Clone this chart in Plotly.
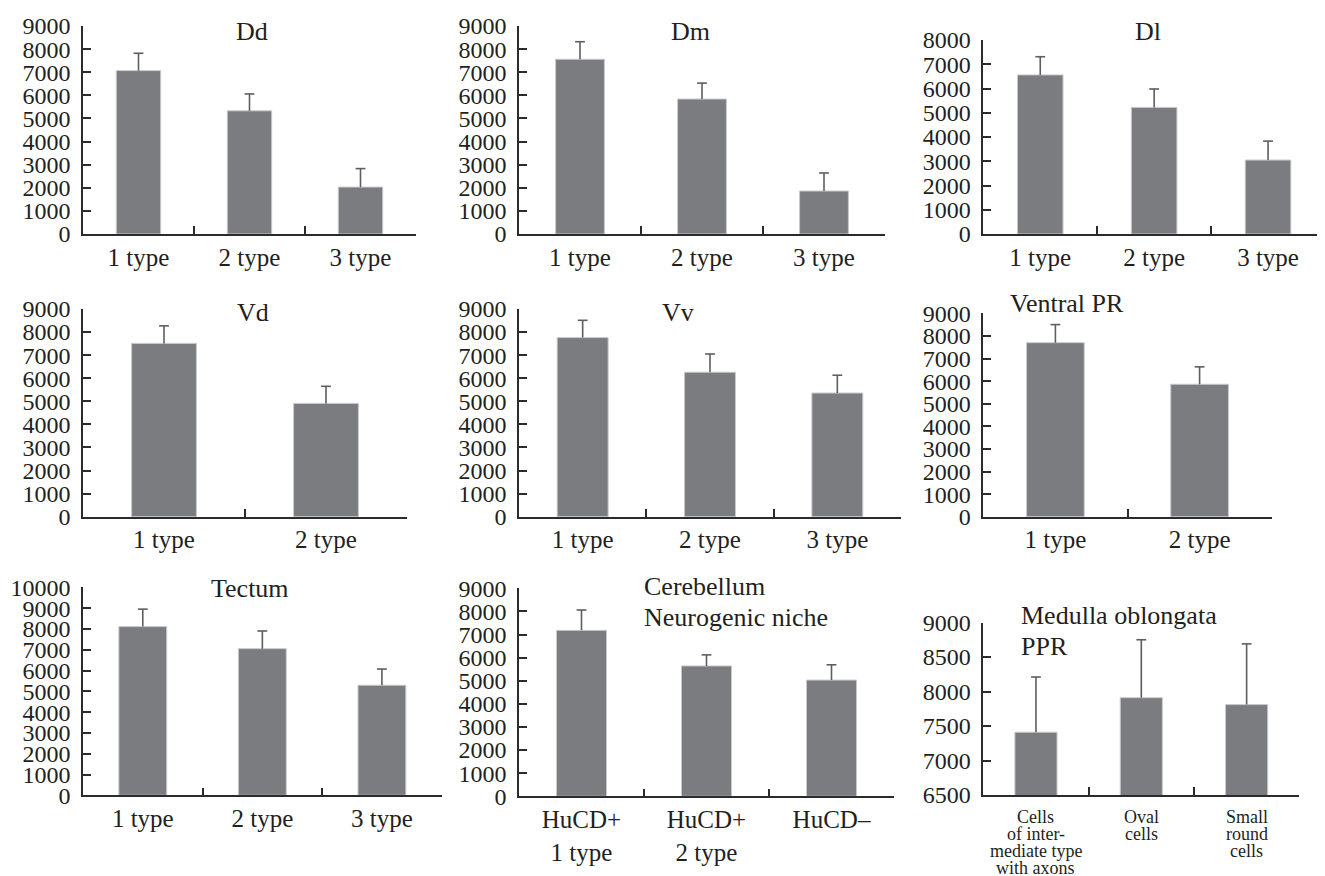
import plotly.graph_objects as go

# ---------------- data ----------------
type3 = ["1 type", "2 type", "3 type"]
type2 = ["1 type", "2 type"]

dd_mean = [7070, 5330, 2030]
dd_err = [750, 730, 800]

dm_mean = [7560, 5840, 1860]
dm_err = [760, 690, 780]

dl_mean = [6560, 5220, 3050]
dl_err = [750, 760, 780]

vd_mean = [7510, 4910]
vd_err = [760, 740]

vv_mean = [7760, 6260, 5360]
vv_err = [750, 790, 770]

vpr_mean = [7700, 5860]
vpr_err = [800, 770]

tect_mean = [8110, 7050, 5290]
tect_err = [840, 850, 780]

cer_cats = ["HuCD+ 1 type", "HuCD+ 2 type", "HuCD–"]
cer_ticktext = ["HuCD+<br>1 type", "HuCD+<br>2 type", "HuCD–"]
cer_mean = [7180, 5640, 5030]
cer_err = [880, 480, 660]

med_label_lines = [["Cells", "of inter-", "mediate type", "with axons"],
                   ["Oval", "cells"],
                   ["Small", "round", "cells"]]
med_cats = [" ".join(l) for l in med_label_lines]
med_mean = [7410, 7910, 7810]
med_err = [800, 840, 880]

# ---------------- style ----------------
PAGE_OFF = 8                  # default body margin of the html page
W, H = 1325 - PAGE_OFF, 876 - PAGE_OFF
FONT = "Liberation Serif"
TXT = "#231f20"
BAR = "#7b7c80"
BAR_EDGE = "#c9c9cb"
ERR = "#5e5e60"
AX = "#2b2b2b"

def px(x):
    return min(1.0, (x - PAGE_OFF) / W)

def py(y):
    return 1 - (y - PAGE_OFF) / H

panels = [
    dict(title="Dd", cats=type3, ticktext=type3, mean=dd_mean, err=dd_err, rng=[0, 9000], dt=1000,
         xd=[83, 416], yd=[234, 26], tpos=(251.7, 32), tanchor="center"),
    dict(title="Dm", cats=type3, ticktext=type3, mean=dm_mean, err=dm_err, rng=[0, 9000], dt=1000,
         xd=[519, 885], yd=[234, 26], tpos=(690, 32), tanchor="center"),
    dict(title="Dl", cats=type3, ticktext=type3, mean=dl_mean, err=dl_err, rng=[0, 8000], dt=1000,
         xd=[983.3, 1327], yd=[234, 40], tpos=(1148, 32), tanchor="center"),
    dict(title="Vd", cats=type2, ticktext=type2, mean=vd_mean, err=vd_err, rng=[0, 9000], dt=1000,
         xd=[83, 407], yd=[516.7, 309], tpos=(253, 312.7), tanchor="center"),
    dict(title="Vv", cats=type3, ticktext=type3, mean=vv_mean, err=vv_err, rng=[0, 9000], dt=1000,
         xd=[519, 901], yd=[516.7, 309], tpos=(678, 312.7), tanchor="center"),
    dict(title="Ventral PR", cats=type2, ticktext=type2, mean=vpr_mean, err=vpr_err, rng=[0, 9000], dt=1000,
         xd=[983.3, 1271.7], yd=[516.7, 313.3], tpos=(1066.7, 303.3), tanchor="center"),
    dict(title="Tectum", cats=type3, ticktext=type3, mean=tect_mean, err=tect_err, rng=[0, 10000], dt=1000,
         xd=[83, 441.7], yd=[795.3, 587.3], tpos=(250, 588.3), tanchor="center"),
    dict(title=["Cerebellum", "Neurogenic niche"], cats=cer_cats, ticktext=cer_ticktext, mean=cer_mean,
         err=cer_err, rng=[0, 9000], dt=1000,
         xd=[519, 894], yd=[796.3, 588.3], tpos=(642.3, 586), tanchor="left"),
    dict(title=["Medulla oblongata", "PPR"], cats=med_cats, ticktext=None, mean=med_mean, err=med_err,
         rng=[6500, 9000], dt=500,
         xd=[983.3, 1299.3], yd=[795, 622.5], tpos=(1019.3, 615), tanchor="left"),
]

fig = go.Figure()
annotations = []
layout = {}

for i, p in enumerate(panels, start=1):
    sfx = "" if i == 1 else str(i)
    xa, ya = "x" + sfx, "y" + sfx
    # bars with upper error stems (no caps)
    fig.add_trace(go.Bar(
        x=p["cats"], y=p["mean"], xaxis=xa, yaxis=ya,
        marker=dict(color=BAR, line=dict(color=BAR_EDGE, width=1)),
        error_y=dict(type="data", symmetric=False, array=p["err"],
                     arrayminus=[0] * len(p["err"]),
                     color=ERR, thickness=1.6, width=0),
        width=0.4, showlegend=False, hoverinfo="x+y",
    ))
    # caps at the top of each error bar
    tops = [m + e for m, e in zip(p["mean"], p["err"])]
    fig.add_trace(go.Scatter(
        x=p["cats"], y=tops, xaxis=xa, yaxis=ya, mode="markers",
        marker=dict(symbol="line-ew-open", size=7, color=ERR, line=dict(color=ERR, width=1.6)),
        showlegend=False, hoverinfo="skip", cliponaxis=False,
    ))
    n = len(p["cats"])
    xaxis = dict(
        domain=[px(p["xd"][0]), px(p["xd"][1])],
        anchor=ya, type="category", range=[-0.5, n - 0.5],
        showline=True, linecolor=AX, linewidth=1.5,
        ticks="inside", ticklen=8, tickwidth=1.5, tickcolor=AX, tickson="boundaries",
        showgrid=False, zeroline=False, automargin=False,
        tickfont=dict(family=FONT, size=25, color=TXT),
        fixedrange=True,
    )
    if p["ticktext"] is not None:
        xaxis.update(tickmode="array", tickvals=p["cats"], ticktext=p["ticktext"])
    else:
        xaxis.update(showticklabels=False)
    yaxis = dict(
        domain=[py(p["yd"][0]), py(p["yd"][1])],
        anchor=xa, range=p["rng"], dtick=p["dt"], tick0=0, tickformat="d",
        showline=True, linecolor=AX, linewidth=1.5,
        ticks="inside", ticklen=8, tickwidth=1.5, tickcolor=AX,
        showgrid=False, zeroline=False, automargin=False,
        tickfont=dict(family=FONT, size=24, color=TXT),
        ticklabelstandoff=6,
        fixedrange=True,
    )
    layout["xaxis" + sfx] = xaxis
    layout["yaxis" + sfx] = yaxis

    # title
    titles = p["title"] if isinstance(p["title"], list) else [p["title"]]
    tx, ty = p["tpos"]
    for k, t in enumerate(titles):
        annotations.append(dict(
            text=t, x=px(tx), y=py(ty + k * 31), xref="paper", yref="paper",
            xanchor=p["tanchor"], yanchor="middle", showarrow=False,
            font=dict(family=FONT, size=26, color=TXT),
        ))

    # multi-line category labels for the medulla panel (tight leading as in the source)
    if p["ticktext"] is None:
        for cat, lines in zip(p["cats"], med_label_lines):
            for k, line in enumerate(lines):
                annotations.append(dict(
                    text=line, x=cat, xref=xa, y=py(816.5 + k * 17.3), yref="paper",
                    xanchor="center", yanchor="middle", showarrow=False,
                    font=dict(family=FONT, size=18, color=TXT),
                ))

fig.update_layout(
    template="none",
    width=W, height=H,
    margin=dict(l=0, r=0, t=0, b=0),
    paper_bgcolor="white", plot_bgcolor="white",
    annotations=annotations,
    bargap=0.6,
    showlegend=False,
    **layout,
)

fig.write_html("out.html")
